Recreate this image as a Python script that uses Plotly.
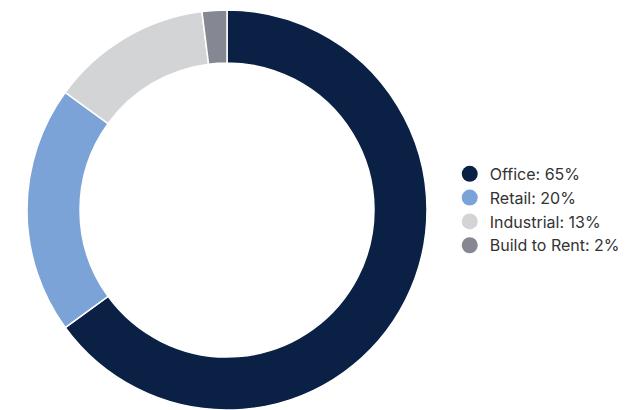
import plotly.graph_objects as go

categories = ["Office", "Retail", "Industrial", "Build to Rent"]
values = [65, 20, 13, 2]
colors = ["#0B2045", "#7BA3D7", "#D3D4D6", "#858892"]
legend_labels = [f"{c}: {v}%" for c, v in zip(categories, values)]

fig = go.Figure()
fig.add_trace(go.Pie(
    labels=categories, values=values, sort=False, direction="clockwise",
    hole=0.735, marker=dict(colors=colors, line=dict(color="white", width=1.5)),
    textinfo="none", hoverinfo="label+percent", showlegend=False,
    domain=dict(x=[27/629, 427/629], y=[0, 400/410]),
))
for lab, col in zip(legend_labels, colors):
    fig.add_trace(go.Scatter(
        x=[None], y=[None], mode="markers", name=lab,
        marker=dict(symbol="circle", size=16, color=col),
    ))

fig.update_layout(
    width=629, height=410, margin=dict(l=0, r=0, t=0, b=0, autoexpand=False),
    paper_bgcolor="white", plot_bgcolor="white",
    xaxis=dict(visible=False), yaxis=dict(visible=False),
    legend=dict(x=0.715, y=0.488, xanchor="left", yanchor="middle",
                font=dict(family="Inter, Roboto, sans-serif", size=16, color="#333333"),
                tracegroupgap=0, itemwidth=30, bgcolor="rgba(0,0,0,0)"),
)
fig.write_html("out.html", config={"displayModeBar": False},
               post_script="document.body.style.margin='0';document.body.style.overflow='hidden';")
